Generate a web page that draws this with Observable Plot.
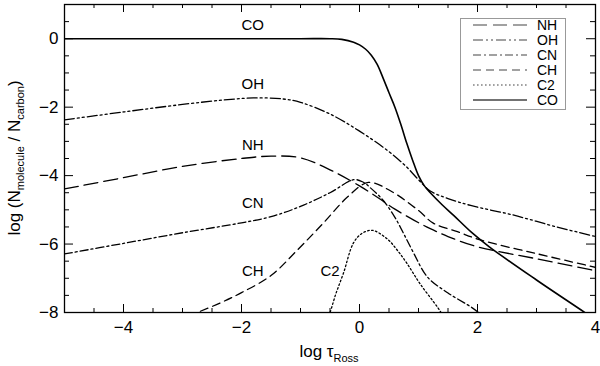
<!DOCTYPE html>
<html><head><meta charset="utf-8">
<script src="https://cdn.jsdelivr.net/npm/d3@7"></script>
<script src="https://cdn.jsdelivr.net/npm/@observablehq/plot@0.6"></script>
<style>
body{margin:0;background:#fff}
svg{font-family:"Liberation Sans",Arial,Helvetica,sans-serif}
</style>
</head><body><div id="chart"></div>
<script>
// ---- data (log tau_Ross, log N_molecule/N_carbon) ----
const seriesNames = ["NH","OH","CN","CH","C2","CO"];
const nhX = [-5,-4,-3,-2,-1.5,-1,-0.5,0,0.36,0.6,0.92,1.2,1.5,2,3,4];
const nhY = [-4.39,-4.06,-3.73,-3.5,-3.43,-3.48,-3.83,-4.3,-4.7,-4.98,-5.3,-5.55,-5.78,-6.08,-6.43,-6.78];
const ohX = [-5,-4,-3,-2.3,-1.8,-1.3,-1,-0.5,0,0.5,0.8,1.0,1.2,1.5,1.9,2.6,3.3,4];
const ohY = [-2.37,-2.14,-1.92,-1.79,-1.73,-1.76,-1.86,-2.2,-2.7,-3.3,-3.75,-4.12,-4.45,-4.67,-4.88,-5.15,-5.48,-5.78];
const cnX = [-5,-4,-3,-2,-1.5,-1,-0.5,-0.1,0.05,0.2,0.4,0.6,0.75,0.92,1.15,1.5,1.9,2.05];
const cnY = [-6.29,-5.98,-5.67,-5.38,-5.2,-4.9,-4.5,-4.12,-4.18,-4.38,-4.72,-5.22,-5.7,-6.27,-6.96,-7.43,-7.85,-8.05];
const chX = [-2.9,-2.75,-2.36,-2,-1.5,-1.05,-0.61,-0.2,0.15,0.53,1.0,1.25,1.66,2.05,3,4];
const chY = [-8.1,-8,-7.72,-7.42,-6.92,-6.17,-5.38,-4.62,-4.2,-4.45,-5.02,-5.39,-5.64,-5.88,-6.28,-6.68];
const c2X = [-0.55,-0.5,-0.4,-0.27,-0.1,0.05,0.22,0.47,0.65,0.81,1.03,1.32,1.4];
const c2Y = [-8.2,-8.0,-7.45,-6.84,-5.96,-5.68,-5.6,-5.85,-6.2,-6.58,-7.17,-7.84,-8.05];
const coX = [-5,-3,-1,-0.5,-0.3,-0.1,0,0.1,0.2,0.3,0.4,0.5,0.6,0.7,0.8,0.9,1.0,1.1,1.2,1.4,1.6,1.9,2.2,3,3.75,4.2];
const coY = [0,0,0,0,-0.02,-0.1,-0.18,-0.3,-0.48,-0.75,-1.15,-1.58,-2.0,-2.5,-3.05,-3.55,-4.0,-4.3,-4.5,-4.85,-5.17,-5.66,-6.08,-7.05,-7.92,-8.45];

const xTicks = [-4,-2,0,2,4];
const yTicks = [0,-2,-4,-6,-8];

const labelNames = ["CO","OH","NH","CN","CH","C2"];
const labelX = [-1.81,-1.81,-1.81,-1.81,-1.81,-0.5];
const labelY = [0.4,-1.32,-3.1,-4.8,-6.8,-6.8];

const dashes = {NH:"14,6", OH:"10,3,2,3,2,3", CN:"8,3,2,3", CH:"8,5", C2:"1.6,2.4", CO:null};

function rows(name, xs, ys){ return xs.map((x,i)=>({name, x, y: ys[i]})); }
const series = {
  NH: rows("NH", nhX, nhY), OH: rows("OH", ohX, ohY), CN: rows("CN", cnX, cnY),
  CH: rows("CH", chX, chY), C2: rows("C2", c2X, c2Y), CO: rows("CO", coX, coY)
};
const labels = labelNames.map((t,i)=>({t, x: labelX[i], y: labelY[i]}));

const xMinor = d3.range(-5, 4.001, 0.5).filter(v => !xTicks.includes(v));
const yMinor = d3.range(-8, 1.001, 0.5).filter(v => !yTicks.includes(v));

const W = 600, H = 366, mL = 64, mR = 5, mT = 4, mB = 54;
const innerW = W - mL - mR, innerH = H - mT - mB;

const lineMarks = seriesNames.map(n => Plot.line(series[n], {
  x: "x", y: "y", curve: "catmull-rom", stroke: "black",
  strokeWidth: n === "CO" ? 1.6 : 1.3,
  strokeDasharray: dashes[n], clip: true
}));

// inward tick marks: short rules inset from the opposite side of the frame
const xt = (vals, len, side) => Plot.ruleX(vals, {x: d => d, stroke: "black", strokeWidth: 1,
  ...(side === "bottom" ? {insetTop: innerH - len} : {insetBottom: innerH - len})});
const yt = (vals, len, side) => Plot.ruleY(vals, {y: d => d, stroke: "black", strokeWidth: 1,
  ...(side === "left" ? {insetRight: innerW - len} : {insetLeft: innerW - len})});

const plot = Plot.plot({
  width: W, height: H,
  marginLeft: mL, marginRight: mR, marginTop: mT, marginBottom: mB,
  x: {domain: [-5, 4]},
  y: {domain: [-8, 1]},
  style: {fontFamily: '"Liberation Sans",Arial,sans-serif', background: "white"},
  marks: [
    ...lineMarks,
    Plot.text(labels, {x: "x", y: "y", text: "t", fontSize: 15, fill: "black"}),
    xt(xTicks, 8, "bottom"), xt(xMinor, 4, "bottom"),
    xt(xTicks, 8, "top"), xt(xMinor, 4, "top"),
    yt(yTicks, 9, "left"), yt(yMinor, 5, "left"),
    yt(yTicks, 9, "right"), yt(yMinor, 5, "right"),
    Plot.axisX(xTicks, {anchor: "bottom", tickSize: 0, tickPadding: 8, fontSize: 17, label: null}),
    Plot.axisY(yTicks, {anchor: "left", tickSize: 0, tickPadding: 6, fontSize: 17, label: null}),
    Plot.frame({stroke: "black", strokeWidth: 1.3})
  ]
});

const svg = d3.select(plot);
// x-axis title
const xtt = svg.append("text").attr("x", 329).attr("y", 357)
  .attr("text-anchor", "middle").attr("font-size", 17).attr("fill", "black");
xtt.append("tspan").text("log τ");
xtt.append("tspan").attr("font-size", 11).attr("dy", 5).text("Ross");
// y-axis title
const ytt = svg.append("text").attr("transform", "translate(20,158) rotate(-90)")
  .attr("text-anchor", "middle").attr("font-size", 17).attr("fill", "black");
ytt.append("tspan").text("log (N");
ytt.append("tspan").attr("font-size", 11).attr("dy", 4).text("molecule");
ytt.append("tspan").attr("dy", -4).text(" / N");
ytt.append("tspan").attr("font-size", 11).attr("dy", 4).text("carbon");
ytt.append("tspan").attr("dy", -4).text(")");
// legend
const lg = svg.append("g");
lg.append("rect").attr("x", 460.5).attr("y", 18.5).attr("width", 105).attr("height", 91)
  .attr("fill", "white").attr("stroke", "#999");
seriesNames.forEach((n, i) => {
  const yy = 25 + i * 15;
  lg.append("line").attr("x1", 473).attr("x2", 527).attr("y1", yy).attr("y2", yy)
    .attr("stroke", "#444").attr("stroke-width", n === "CO" ? 1.5 : 1.2)
    .attr("stroke-dasharray", dashes[n]);
  lg.append("text").attr("x", 537).attr("y", yy).attr("dy", "0.36em")
    .attr("text-anchor", "start")
    .attr("font-size", 14).attr("fill", "black").text(n);
});
document.getElementById("chart").appendChild(plot);
</script>
</body></html>
